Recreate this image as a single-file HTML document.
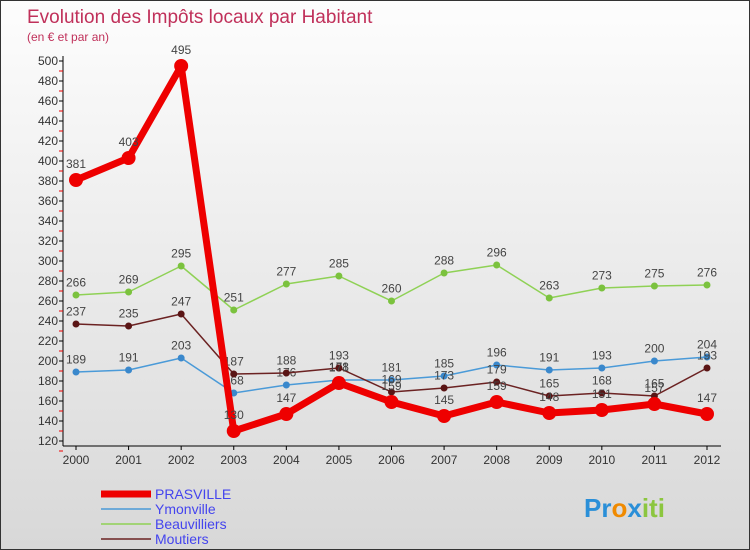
<!DOCTYPE html>
<html><head><meta charset="utf-8"><style>
body{margin:0}
#c{width:750px;height:550px;position:relative;font-family:"Liberation Sans",sans-serif;background:linear-gradient(#fdfdfd,#d8d8d8);box-sizing:border-box;border:1px solid #333;overflow:hidden}
</style></head><body>
<div id="c">
<svg id="s" width="750" height="550" style="position:absolute;left:0;top:0">
<text x="26" y="22" font-size="19" fill="#c0305a" font-weight="300">Evolution des Impôts locaux par Habitant</text>
<text x="26" y="40" font-size="12" fill="#c0305a">(en € et par an)</text>
<g id="axes"></g><g id="series"></g><g id="legend"></g>
<text x="583" y="516" font-size="26" font-weight="bold"><tspan fill="#2a8fd8">Pr</tspan><tspan fill="#f08a00">o</tspan><tspan fill="#2a8fd8">x</tspan><tspan fill="#8cc63f">iti</tspan></text>
</svg>
</div>
<script>
const years=["2000","2001","2002","2003","2004","2005","2006","2007","2008","2009","2010","2011","2012"];
const prasville=[381,403,495,130,147,178,159,145,159,148,151,157,147];
const ymonville=[189,191,203,168,176,181,181,185,196,191,193,200,204];
const beauvilliers=[266,269,295,251,277,285,260,288,296,263,273,275,276];
const moutiers=[237,235,247,187,188,193,169,173,179,165,168,165,193];
const yTicks=[120,140,160,180,200,220,240,260,280,300,320,340,360,380,400,420,440,460,480,500];
const NS="http://www.w3.org/2000/svg";
function X(i){return 75+i*(706-75)/12}
function Y(v){return 60+(500-v)}
function mk(t,a,p){const e=document.createElementNS(NS,t);for(const k in a)e.setAttribute(k,a[k]);p.appendChild(e);return e}
const ax=document.getElementById('axes');
let e=mk('line',{x1:62,y1:55,x2:62,y2:445,stroke:'#000'},ax);


e=mk('line',{x1:62,y1:445,x2:720,y2:445,stroke:'#000'},ax);


yTicks.forEach(v=>{
 mk('line',{x1:58,y1:Y(v),x2:62,y2:Y(v),stroke:'#000'},ax);
 mk('line',{x1:58,y1:Y(v)+10,x2:62,y2:Y(v)+10,stroke:'#e00'},ax);
 const t=mk('text',{x:57,y:Y(v)+4,'font-size':12,'text-anchor':'end',fill:'#333'},ax);t.textContent=v;
 
 
});
years.forEach((y,i)=>{
 mk('line',{x1:X(i),y1:445,x2:X(i),y2:449,stroke:'#000'},ax);
 const t=mk('text',{x:X(i),y:463,'font-size':12,'text-anchor':'middle',fill:'#333'},ax);t.textContent=y;
 
 
});
const S=[["Beauvilliers",beauvilliers,'#8fd155','#7bc23e',1.5,3.5],["Ymonville",ymonville,'#4a9ad8','#3a88cc',1.5,3.5],["Moutiers",moutiers,'#6b2222','#5a1515',1.5,3.5],["PRASVILLE",prasville,'#ee0000','#ee0000',7,7]];
const sg=document.getElementById('series');
S.forEach(([n,d,c,dc,w,r])=>{
 const g=mk('g',{},sg);
 
 
 mk('polyline',{points:d.map((v,i)=>X(i)+','+Y(v)).join(' '),fill:'none',stroke:c,'stroke-width':w,'stroke-linejoin':'round'},g);
 d.forEach((v,i)=>{
  const p=mk('circle',{cx:X(i),cy:Y(v),r:r,fill:dc},g);
  
  
  const t=mk('text',{x:X(i),y:Y(v)-(r+5),'font-size':12,'text-anchor':'middle',fill:'#444'},g);t.textContent=v;
  
  
 });
});
const lg=document.getElementById('legend');
[["PRASVILLE",'#ee0000',7],["Ymonville",'#4a9ad8',1.5],["Beauvilliers",'#8fd155',1.5],["Moutiers",'#6b2222',1.5]].forEach(([n,c,w],i)=>{
 const y=493+i*15;
 const l=mk('line',{x1:100,y1:y,x2:150,y2:y,stroke:c,'stroke-width':w},lg);
 
 
 const t=mk('text',{x:154,y:y+5,'font-size':14,fill:'#4444ee'},lg);t.textContent=n;
 
 
});
</script>
</body></html>
